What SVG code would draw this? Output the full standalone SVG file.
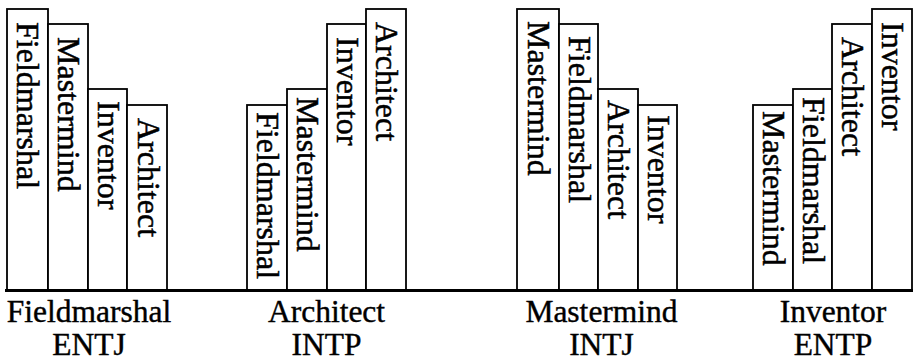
<svg xmlns="http://www.w3.org/2000/svg" width="915" height="364" viewBox="0 0 915 364">
<style>
.bar{fill:#fff;stroke:#000;stroke-width:1.8}
.t{font-family:"Liberation Serif","Times New Roman",serif;font-size:32px;fill:#000;stroke:#000;stroke-width:0.5}
.lbl{font-family:"Liberation Serif","Times New Roman",serif;font-size:31.5px;fill:#000;stroke:#000;stroke-width:0.4;text-anchor:middle}
.base{stroke:#000;stroke-width:3}
</style>
<rect width="915" height="364" fill="#fff"/>
<g id="group-entj">
<rect class="bar" x="7" y="9" width="41" height="281"/>
<rect class="bar" x="48" y="24" width="40" height="266"/>
<rect class="bar" x="88" y="89" width="39" height="201"/>
<rect class="bar" x="127" y="105" width="40" height="185"/>
<text class="t" transform="translate(17,22) rotate(90)">Fieldmarshal</text>
<text class="t" transform="translate(58,37) rotate(90)">Mastermind</text>
<text class="t" transform="translate(98,101) rotate(90)">Inventor</text>
<text class="t" transform="translate(138,118) rotate(90)">Architect</text>
<text class="lbl" x="89" y="322">Fieldmarshal</text>
<text class="lbl" x="89" y="355">ENTJ</text>
</g>
<g id="group-intp">
<rect class="bar" x="247" y="105" width="40" height="185"/>
<rect class="bar" x="287" y="89" width="40" height="201"/>
<rect class="bar" x="327" y="24" width="39" height="266"/>
<rect class="bar" x="366" y="9" width="40" height="281"/>
<text class="t" transform="translate(257,112) rotate(90)">Fieldmarshal</text>
<text class="t" transform="translate(297,97) rotate(90)">Mastermind</text>
<text class="t" transform="translate(337,37) rotate(90)">Inventor</text>
<text class="t" transform="translate(376,22) rotate(90)">Architect</text>
<text class="lbl" x="326.5" y="322">Architect</text>
<text class="lbl" x="326.5" y="355">INTP</text>
</g>
<g id="group-intj">
<rect class="bar" x="517" y="9" width="42" height="281"/>
<rect class="bar" x="559" y="24" width="39" height="266"/>
<rect class="bar" x="598" y="89" width="40" height="201"/>
<rect class="bar" x="638" y="105" width="39" height="185"/>
<text class="t" transform="translate(528,21) rotate(90)">Mastermind</text>
<text class="t" transform="translate(569,36) rotate(90)">Fieldmarshal</text>
<text class="t" transform="translate(608,100) rotate(90)">Architect</text>
<text class="t" transform="translate(648,115) rotate(90)">Inventor</text>
<text class="lbl" x="601.5" y="322">Mastermind</text>
<text class="lbl" x="601.5" y="355">INTJ</text>
</g>
<g id="group-entp">
<rect class="bar" x="753" y="105" width="40" height="185"/>
<rect class="bar" x="793" y="89" width="39" height="201"/>
<rect class="bar" x="832" y="24" width="40" height="266"/>
<rect class="bar" x="872" y="9" width="40" height="281"/>
<text class="t" transform="translate(763,111) rotate(90)">Mastermind</text>
<text class="t" transform="translate(803,97) rotate(90)">Fieldmarshal</text>
<text class="t" transform="translate(842,37) rotate(90)">Architect</text>
<text class="t" transform="translate(882,22) rotate(90)">Inventor</text>
<text class="lbl" x="833" y="322">Inventor</text>
<text class="lbl" x="833" y="355">ENTP</text>
</g>
<g id="connectors">
<line class="base" x1="5" y1="290.5" x2="913" y2="290.5"/>
</g>
</svg>
